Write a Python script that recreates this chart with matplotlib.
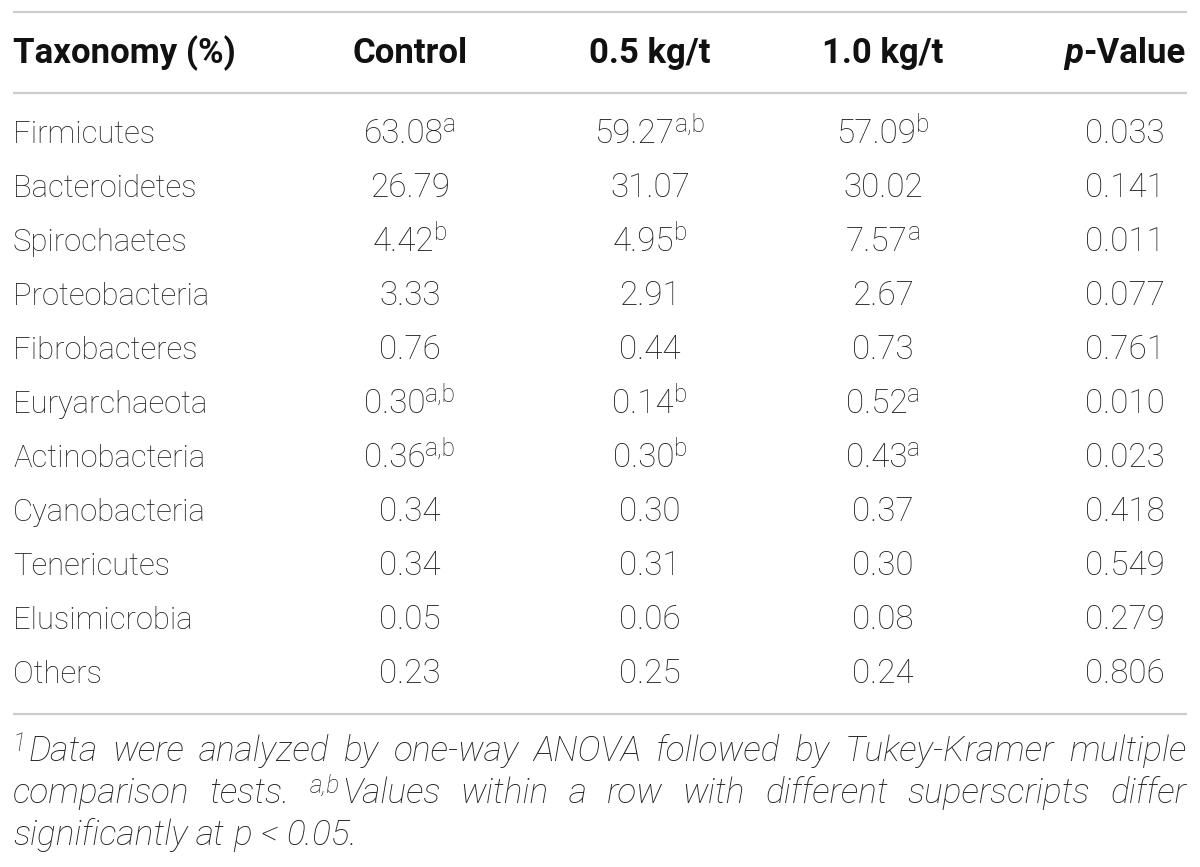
import matplotlib
matplotlib.use("Agg")
import matplotlib.pyplot as plt

# table content
headers = ["Taxonomy (%)", "Control", "0.5 kg/t", "1.0 kg/t", "p-Value"]
taxa = ["Firmicutes", "Bacteroidetes", "Spirochaetes", "Proteobacteria",
        "Fibrobacteres", "Euryarchaeota", "Actinobacteria", "Cyanobacteria",
        "Tenericutes", "Elusimicrobia", "Others"]
control = ["63.08", "26.79", "4.42", "3.33", "0.76", "0.30", "0.36", "0.34", "0.34", "0.05", "0.23"]
control_sup = ["a", "", "b", "", "", "a,b", "a,b", "", "", "", ""]
half = ["59.27", "31.07", "4.95", "2.91", "0.44", "0.14", "0.30", "0.30", "0.31", "0.06", "0.25"]
half_sup = ["a,b", "", "b", "", "", "b", "b", "", "", "", ""]
one = ["57.09", "30.02", "7.57", "2.67", "0.73", "0.52", "0.43", "0.37", "0.30", "0.08", "0.24"]
one_sup = ["b", "", "a", "", "", "a", "a", "", "", "", ""]
pvals = ["0.033", "0.141", "0.011", "0.077", "0.761", "0.010", "0.023", "0.418", "0.549", "0.279", "0.806"]

note_lines = [
    [("1", True), ("Data", False), ("were", False), ("analyzed", False), ("by", False),
     ("one-way", False), ("ANOVA", False), ("followed", False), ("by", False),
     ("Tukey-Kramer", False), ("multiple", False)],
    [("comparison", False), ("tests.", False), ("a,b", True), ("Values", False),
     ("within", False), ("a", False), ("row", False), ("with", False), ("different", False),
     ("superscripts", False), ("differ", False)],
    [("significantly", False), ("at", False), ("p", False), ("<", False), ("0.05.", False)],
]

W, H = 1200, 867
fig = plt.figure(figsize=(W / 100, H / 100), dpi=100)
ax = fig.add_axes([0, 0, 1, 1])
ax.set_xlim(0, W)
ax.set_ylim(H, 0)
ax.axis("off")
renderer = fig.canvas.get_renderer()

FAM = ["Roboto", "DejaVu Sans"]
TXT = "#222222"


def width(s, **kw):
    t = ax.text(0, 0, s, **kw)
    w = t.get_window_extent(renderer).width
    t.remove()
    return w


def fit(s, target, **kw):
    return 20 * target / width(s, size=20, **kw)


body = dict(family=FAM, weight="light", color=TXT)
bold = dict(family=FAM, weight="bold", color="#111111")
note = dict(family=FAM, weight="light", style="italic", color=TXT)

bsize = fit("0.033", 80, **body)
sup_size = fit("a,b", 31, **body)
hsize = fit("Taxonomy (%)", 222, **bold)
nsize = fit("significantly at p < 0.05.", 344, **note)

# rules
for y in [12, 93, 714]:
    ax.plot([13, 1187], [y, y], color="#cccccc", lw=1.6, solid_capstyle="butt")

col_x = [None, 410, 650, 883, 1125]
head_base = 63
row_base = [143 + 54 * i for i in range(len(taxa))]

# header
ax.text(13, head_base, headers[0], ha="left", va="baseline", size=hsize, **bold)
for cx, h in zip(col_x[1:4], headers[1:4]):
    ax.text(cx, head_base, h, ha="center", va="baseline", size=hsize, **bold)
wp = width("p", size=hsize, style="italic", **bold)
wv = width("-Value", size=hsize, **bold)
x0 = col_x[4] - (wp + wv) / 2
ax.text(x0, head_base, "p", ha="left", va="baseline", size=hsize, style="italic", **bold)
ax.text(x0 + wp, head_base, "-Value", ha="left", va="baseline", size=hsize, **bold)


def cell(cx, y, num, sup):
    wn = width(num, size=bsize, **body)
    ws = width(sup, size=sup_size, **body) if sup else 0
    x = cx - (wn + ws) / 2
    ax.text(x, y, num, ha="left", va="baseline", size=bsize, **body)
    if sup:
        ax.text(x + wn, y - 11, sup, ha="left", va="baseline", size=sup_size, **body)


for i, name in enumerate(taxa):
    y = row_base[i]
    ax.text(13, y, name, ha="left", va="baseline", size=bsize * 0.93, **body)
    cell(col_x[1], y, control[i], control_sup[i])
    cell(col_x[2], y, half[i], half_sup[i])
    cell(col_x[3], y, one[i], one_sup[i])
    cell(col_x[4], y, pvals[i], "")

# footnote, justified
note_base = [761, 803, 845]
left, right = 13, 1186
for li, words in enumerate(note_lines):
    # glue superscripts to the following word
    groups = []
    pending = None
    for w, is_sup in words:
        if is_sup:
            pending = w
        else:
            groups.append((pending, w))
            pending = None
    ssize = nsize * 0.7
    widths = []
    for sup, w in groups:
        ws = width(sup, size=ssize, **note) + 2 if sup else 0
        widths.append((ws, width(w, size=nsize, **note)))
    if li < len(note_lines) - 1:
        gap = (right - left - sum(a + b for a, b in widths)) / (len(groups) - 1)
    else:
        gap = width("a b", size=nsize, **note) - width("ab", size=nsize, **note)
    x = left
    y = note_base[li]
    for (sup, w), (ws, ww) in zip(groups, widths):
        if sup:
            ax.text(x, y - 10, sup, ha="left", va="baseline", size=ssize, **note)
        ax.text(x + ws, y, w, ha="left", va="baseline", size=nsize, **note)
        x += ws + ww + gap

fig.savefig("out.png", dpi=100)
